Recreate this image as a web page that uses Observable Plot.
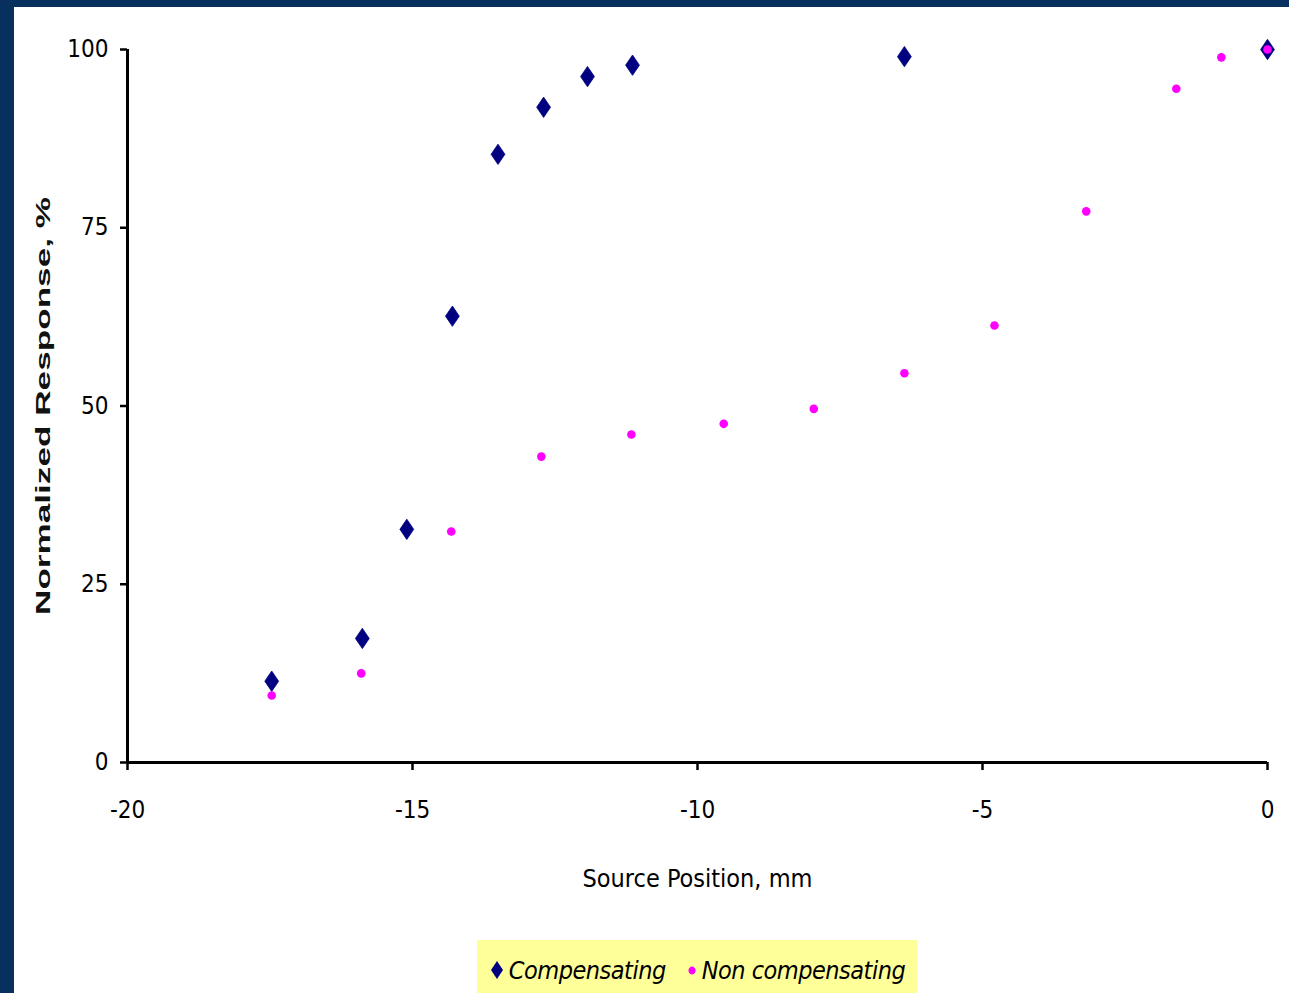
<!DOCTYPE html>
<html>
<head>
<meta charset="utf-8">
<script src="https://cdn.jsdelivr.net/npm/d3@7"></script>
<script src="https://cdn.jsdelivr.net/npm/@observablehq/plot@0.6"></script>
<style>
  html, body { margin: 0; padding: 0; background: #08305f; width: 1289px; height: 993px; overflow: hidden; }
  #panel { position: absolute; left: 14px; top: 7px; width: 1275px; height: 986px; background: #ffffff; }
  #chart { position: absolute; left: 0; top: 0; }
  #chart svg text { font-stretch: condensed; }
  #chart svg .ylab text { font-stretch: normal; }
  #legend { position: absolute; left: 463px; top: 933px; width: 440px; height: 60px; background: #ffff99;
    display: flex; align-items: center; justify-content: center; gap: 20px; white-space: nowrap;
    font-family: "DejaVu Sans Condensed", "DejaVu Sans", sans-serif; font-stretch: condensed;
    font-style: italic; font-size: 25px; color: #000; letter-spacing: -0.5px; }
  .item { display: flex; align-items: center; gap: 4px; }
</style>
</head>
<body>
<div id="panel">
  <div id="chart"></div>
  <div id="legend"></div>
</div>
<script>
const seriesNames = ["Compensating", "Non compensating"];
const compX = [-17.47, -15.88, -15.1, -14.3, -13.5, -12.7, -11.93, -11.14, -6.37, 0];
const compY = [11.4, 17.4, 32.7, 62.6, 85.3, 91.9, 96.2, 97.8, 99.0, 100];
const nonX = [-17.47, -15.9, -14.32, -12.74, -11.16, -9.54, -7.96, -6.37, -4.79, -3.18, -1.60, -0.81, 0];
const nonY = [9.4, 12.5, 32.4, 42.9, 46.0, 47.5, 49.6, 54.6, 61.3, 77.3, 94.5, 98.9, 100];
const xTicks = [-20, -15, -10, -5, 0];
const yTicks = [0, 25, 50, 75, 100];
const xLabel = "Source Position, mm";
const yLabel = "Normalized Response, %";
const colors = ["#000080", "#ff00ff"];

const comp = compX.map((x, i) => ({x, y: compY[i]}));
const non = nonX.map((x, i) => ({x, y: nonY[i]}));

const narrow = "'DejaVu Sans Condensed', 'DejaVu Sans', sans-serif";

// a diamond a little wider than d3's default, like the spreadsheet marker
const wideDiamond = {
  draw(context, size) {
    const h = Math.sqrt(size) * 0.82, w = h * 0.68;
    context.moveTo(0, -h); context.lineTo(w, 0); context.lineTo(0, h); context.lineTo(-w, 0); context.closePath();
  }
};

const chart = Plot.plot({
  width: 1275,
  height: 900,
  marginLeft: 113,
  marginRight: 22,
  marginTop: 42,
  marginBottom: 145,
  style: { background: "transparent", fontFamily: narrow, fontSize: "24px", color: "#000", overflow: "visible" },
  x: { domain: [-20, 0] },
  y: { domain: [0, 100] },
  marks: [
    Plot.axisX({ ticks: xTicks, tickSize: 8, tickPadding: 30, tickFormat: d => String(d), label: null, strokeWidth: 2.5, fontSize: 24 }),
    Plot.axisY({ ticks: yTicks, tickSize: 7, tickPadding: 12, tickFormat: d => String(d), label: null, strokeWidth: 2.5, fontSize: 24 }),
    Plot.ruleY([0], { stroke: "#000", strokeWidth: 3 }),
    Plot.ruleX([-20], { stroke: "#000", strokeWidth: 3, y1: 0, y2: 100 }),
    Plot.dot(comp, { x: "x", y: "y", symbol: wideDiamond, r: 7, fill: colors[0], stroke: colors[0], strokeWidth: 0.8 }),
    Plot.dot(non, { x: "x", y: "y", symbol: "circle", r: 4.3, fill: colors[1] }),
    Plot.text([xLabel], { frameAnchor: "bottom", dy: 124, text: d => d, fontSize: 25, fill: "#000" }),
    Plot.text([yLabel], { frameAnchor: "left", dx: -84, rotate: -90, textAnchor: "middle", text: d => d, fontSize: 21,
      fontWeight: "bold", fontFamily: "'Liberation Sans', Arial, sans-serif", fill: "#111", className: "ylab" })
  ]
});
document.getElementById("chart").appendChild(chart);

// stretch the y label to the reference length
const yl = chart.querySelector(".ylab text");
if (yl) { yl.setAttribute("textLength", 418); yl.setAttribute("lengthAdjust", "spacingAndGlyphs"); }

// legend
const legend = document.getElementById("legend");
seriesNames.forEach((name, i) => {
  const item = document.createElement("div");
  item.className = "item";
  const sym = document.createElementNS("http://www.w3.org/2000/svg", "svg");
  sym.setAttribute("width", i === 0 ? 16 : 12);
  sym.setAttribute("height", 24);
  const shape = document.createElementNS("http://www.w3.org/2000/svg", "path");
  shape.setAttribute("d", i === 0 ? "M8,3L14,12L8,21L2,12Z" : "M6,8.5a3.5,4 0 1,0 0.01,0Z");
  shape.setAttribute("fill", colors[i]);
  sym.appendChild(shape);
  const label = document.createElement("span");
  label.textContent = name;
  item.appendChild(sym);
  item.appendChild(label);
  legend.appendChild(item);
});
</script>
</body>
</html>
